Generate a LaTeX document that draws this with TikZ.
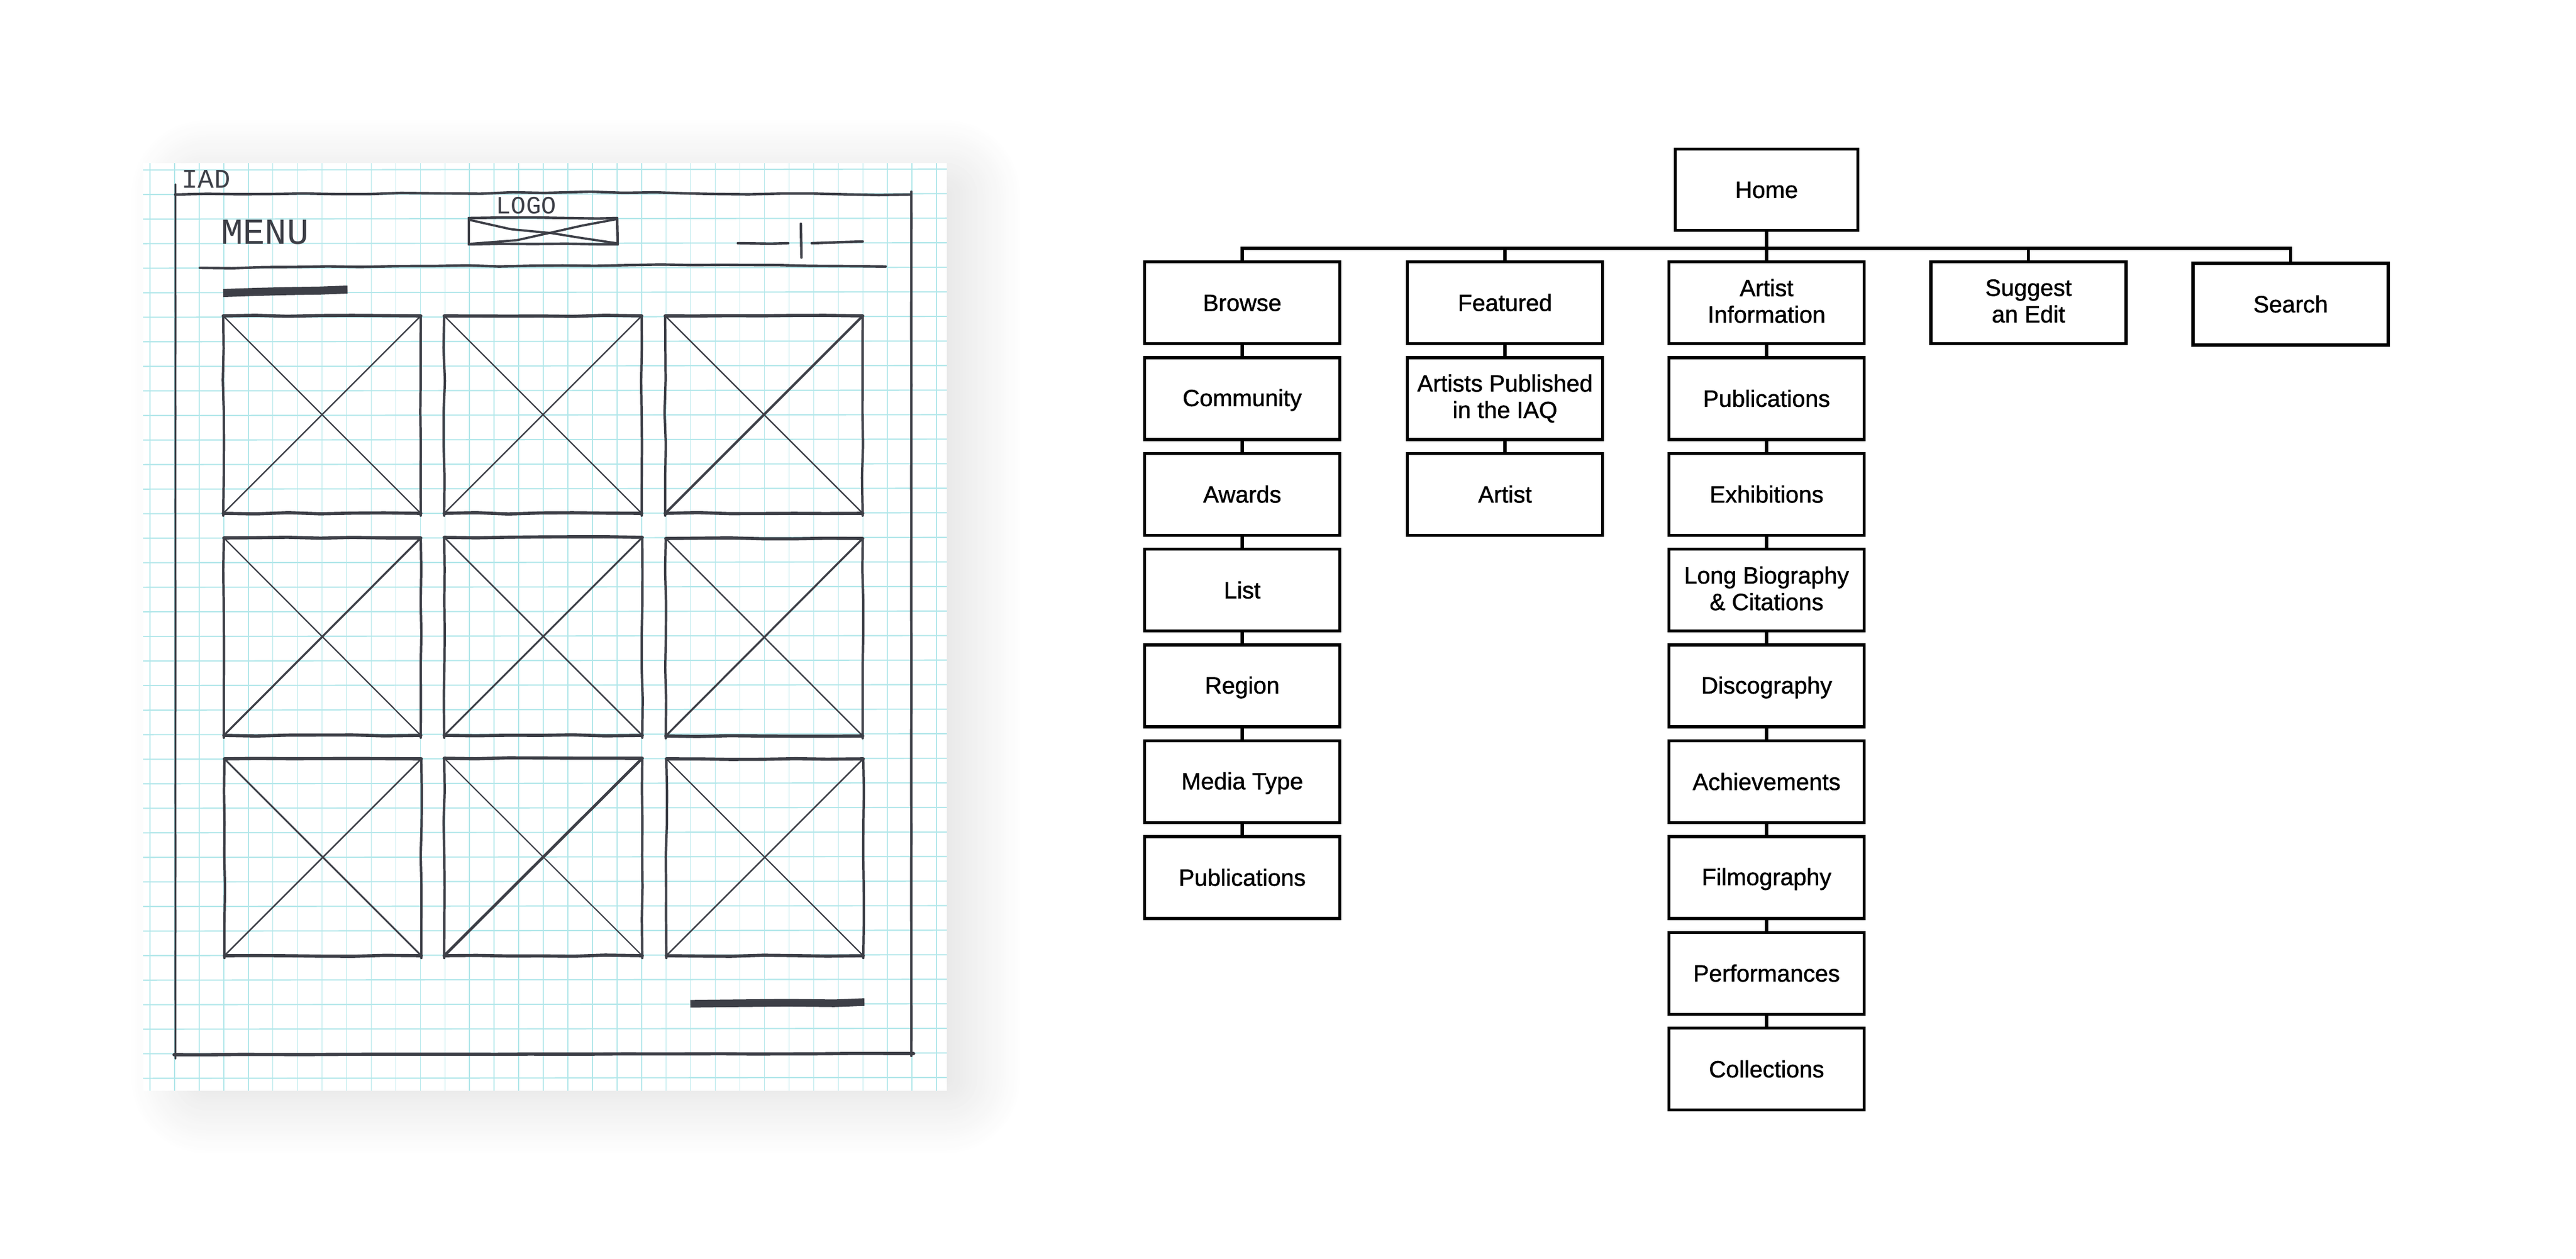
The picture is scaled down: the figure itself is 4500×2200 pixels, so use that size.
\documentclass[tikz,border=0pt]{standalone}
\usepackage{fontspec}
\usetikzlibrary{decorations.pathmorphing}
\newfontfamily\blockfont[FakeBold=1.2]{Liberation Sans}
\newfontfamily\handfont{Liberation Mono}
\newcommand{\blocktext}{\blockfont\fontsize{11.7}{13.2}\selectfont}
\newcommand{\blockstrut}{\rule[-1.8pt]{0pt}{11.8pt}}
\definecolor{pen}{HTML}{3D3F47}
\definecolor{gridline}{HTML}{B2E7EA}
\tikzset{
  block/.style={draw, line width=1.55pt, minimum width=3.41cm, minimum height=1.43cm, inner sep=0pt, align=center, font=\blocktext, execute at begin node=\blockstrut, execute at end node=\blockstrut},
  link/.style={line width=1.6pt},
  sketch/.style={draw=pen, line width=1.25pt, line cap=round, line join=round, rounded corners=.8pt, decorate, decoration={random steps, segment length=16pt, amplitude=.35pt}},
  hand/.style={text=pen, inner sep=0pt}
}
\pgfmathsetseed{7}
\begin{document}
\begin{tikzpicture}[x=0.01cm, y=-0.01cm]
  \useasboundingbox (0,0) rectangle (4500,2200);
  % shadow behind the sheet
  \foreach \i in {1,...,26} {
    \pgfmathsetmacro{\s}{\i*0.33}
    \pgfmathsetmacro{\r}{(135-5*\i)*0.2845}
    \fill[black!\s, rounded corners=\r pt] (225+5*\i,205+5*\i) rectangle (1787-5*\i,2020-5*\i);
  }
  % sheet and grid
  \fill[white] (250,285) rectangle (1654,1906);
  \foreach \i in {0,...,32}
    \draw[gridline, line width=.42pt] (262+42.94*\i,285) -- (262+42.94*\i,1906);
  \foreach \i in {0,...,37}
    \draw[gridline, line width=.6pt] (250,297+42.9*\i) -- (1654,295.5+42.9*\i);
  % page frame
  \draw[sketch, line width=.95pt, decoration={amplitude=.05pt}] (306.5,322) -- (306.5,1850);
  \draw[sketch] (306,340) -- (780,338) -- (1030,335) -- (1250,339) -- (1590,340);
  \draw[sketch, decoration={amplitude=.05pt}] (1592,335) -- (1592,1845);
  \draw[sketch, line width=1.6pt, decoration={amplitude=.1pt}] (304,1843) -- (1596,1841);
  % header
  \node[hand, font=\handfont\fontsize{13.4}{14}\selectfont] (iad) at (360,313) {IAD};
  \node[hand, font=\handfont\fontsize{18.2}{19}\selectfont] (menu) at (463,406) {MENU};
  \node[hand, font=\handfont\fontsize{12.4}{13}\selectfont] (logo) at (919,359) {LOGO};
  \draw[sketch] (819,381) -- (1078,381);
  \draw[sketch] (1078,381) -- (1079,427);
  \draw[sketch] (819,427) -- (1079,427);
  \draw[sketch] (819,381) -- (819,427);
  \draw[sketch, line width=1.1pt] (819,384) -- (890,400) -- (960,407) -- (1077,425);
  \draw[sketch, line width=1.1pt] (822,426) -- (900,420) -- (960,407) -- (1077,383);
  \draw[sketch] (1289,425) -- (1377,425);
  \draw[sketch] (1399,391) -- (1400,450);
  \draw[sketch] (1418,425) -- (1507,422);
  \draw[sketch] (349,468) -- (700,465) -- (1300,463) -- (1480,465) -- (1547,467);
  \draw[sketch, line width=4pt, line cap=butt, decoration={amplitude=.15pt}] (390,512) -- (607,506);
  % picture placeholders
  \foreach \xa/\xb/\ya/\yb/\wa/\wb in {
    390/735/552/897/.7/.7, 776/1121/552/897/.7/.7, 1162/1507/552/897/.7/1.2,
    391/735/940/1285/.65/1, 776/1122/939/1285/.75/.9, 1163/1507/941/1286/.7/1,
    392/736/1326/1670/.9/.75, 776/1122/1325/1670/.6/1.4, 1164/1508/1326/1670/.65/.75} {
    \draw[sketch, line width=1.2pt] (\xa,\ya) -- (\xa,\yb+4);
    \draw[sketch, line width=1.2pt] (\xb,\ya) -- (\xb,\yb+4);
    \draw[sketch, line width=1.6pt] (\xa,\ya) -- (\xb,\ya);
    \draw[sketch, line width=1.6pt] (\xa,\yb) -- (\xb,\yb);
    \draw[pen, line width=\wa pt] (\xa,\ya) -- (\xb,\yb);
    \draw[pen, line width=\wb pt] (\xa,\yb) -- (\xb,\ya);
  }
  \draw[sketch, line width=3.8pt, line cap=butt, decoration={segment length=24pt, amplitude=.5pt}] (1206,1754) -- (1510,1751);
  % sitemap
  \node[block, minimum width=3.19cm, minimum height=1.42cm] (home) at (3086,331.5) {Home};
  \node[block] (browse) at (2170,529) {Browse};
  \node[block] (community) at (2170,696.4) {Community};
  \node[block] (awards) at (2170,863.8) {Awards};
  \node[block] (list) at (2170,1031.2) {List};
  \node[block] (region) at (2170,1198.6) {Region};
  \node[block] (media) at (2170,1366) {Media Type};
  \node[block] (pubsa) at (2170,1533.4) {Publications};
  \node[block] (featured) at (2629,529) {Featured};
  \node[block] (published) at (2629,696.4) {Artists Published\\in the IAQ};
  \node[block] (artist) at (2629,863.8) {Artist};
  \node[block] (info) at (3086,529) {Artist\\Information};
  \node[block] (pubsb) at (3086,696.4) {Publications};
  \node[block] (exhibitions) at (3086,863.8) {Exhibitions};
  \node[block] (biography) at (3086,1031.2) {Long Biography\\\& Citations};
  \node[block] (discography) at (3086,1198.6) {Discography};
  \node[block] (achievements) at (3086,1366) {Achievements};
  \node[block] (filmography) at (3086,1533.4) {Filmography};
  \node[block] (performances) at (3086,1700.8) {Performances};
  \node[block] (collections) at (3086,1868.2) {Collections};
  \node[block] (suggest) at (3543.5,529) {Suggest\\an Edit};
  \node[block] (search) at (4001.5,531.5) {Search};
  \coordinate (bus) at (3086,434);
  \draw[link] (home) -- (bus);
  \foreach \c in {browse,featured,info,suggest,search}
    \draw[link] (\c.north) |- (bus);
  \foreach \a/\b in {browse/community,community/awards,awards/list,list/region,region/media,media/pubsa,
    featured/published,published/artist,
    info/pubsb,pubsb/exhibitions,exhibitions/biography,biography/discography,discography/achievements,
    achievements/filmography,filmography/performances,performances/collections}
    \draw[link] (\a) -- (\b);
\end{tikzpicture}
\end{document}
